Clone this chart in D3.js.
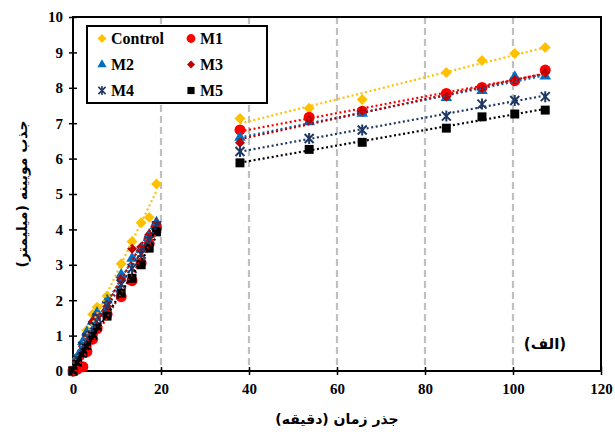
<!DOCTYPE html>
<html>
<head>
<meta charset="utf-8">
<script src="https://cdn.jsdelivr.net/npm/d3@7"></script>
<style>
  body { margin: 0; background: #fff; }
  svg text { font-family: "Liberation Serif", "DejaVu Sans", serif; font-weight: bold; }
  .fa { font-family: "DejaVu Sans", sans-serif; font-weight: bold; }
</style>
</head>
<body>
<div id="chart"></div>
<script>
// square root of time (min): first stage (0-6 h) and second stage (1-8 days)
const timeLeft = [0, 1, 2.24, 3.16, 4.47, 5.48, 7.75, 10.95, 13.42, 15.49, 17.32, 18.97]
const timeRight = [37.95, 53.67, 65.73, 84.85, 92.95, 100.4, 107.33]

const control = [0, 0.35, 0.75, 1.15, 1.6, 1.8, 2.12, 3.03, 3.66, 4.19, 4.34, 5.28,
  7.13, 7.42, 7.67, 8.43, 8.77, 8.97, 9.14]
const m1 = [0, 0.05, 0.12, 0.55, 0.9, 1.2, 1.6, 2.1, 2.55, 3.05, 3.6, 4.05,
  6.81, 7.17, 7.34, 7.84, 8.01, 8.2, 8.5]
const m2 = [0, 0.4, 0.83, 1.1, 1.4, 1.65, 2.0, 2.72, 3.18, 3.45, 3.85, 4.2,
  6.6, 7.04, 7.28, 7.72, 7.92, 8.31, 8.33]
const m3 = [0, 0.3, 0.7, 1.0, 1.39, 1.55, 1.82, 2.6, 3.45, 3.5, 3.85, 4.15,
  6.45, 7.09, 7.35, 7.75, 7.99, 8.22, 8.43]
const m4 = [0, 0.35, 0.7, 0.95, 1.25, 1.5, 1.85, 2.45, 2.9, 3.3, 3.7, 4.1,
  6.2, 6.57, 6.81, 7.2, 7.54, 7.64, 7.75]
const m5 = [0, 0.25, 0.5, 0.72, 1.0, 1.25, 1.55, 2.2, 2.62, 3.0, 3.47, 3.93,
  5.88, 6.26, 6.46, 6.86, 7.18, 7.26, 7.37]

const seriesNames = ["Control", "M1", "M2", "M3", "M4", "M5"]
const xTicks = [0, 20, 40, 60, 80, 100, 120]
const yTicks = [0, 1, 2, 3, 4, 5, 6, 7, 8, 9, 10]
const gridX = [20, 40, 60, 80, 100]

const values = [control, m1, m2, m3, m4, m5]
const colors = ["#FFC000", "#FF0000", "#0070C0", "#C00000", "#1F3864", "#000000"]
const lineColors = ["#FFC000", "#FF0000", "#0070C0", "#C00000", "#1F3864", "#000000"]

const margin = { top: 17, right: 14, bottom: 61, left: 73 }
const W = 615, H = 432
const width = W - margin.left - margin.right
const height = H - margin.top - margin.bottom

const svg = d3.select("#chart").append("svg")
  .attr("width", W)
  .attr("height", H)

const g = svg.append("g")
  .attr("transform", "translate(" + margin.left + "," + margin.top + ")")

const x = d3.scaleLinear().domain([0, 120]).range([0, width])
const y = d3.scaleLinear().domain([0, 10]).range([height, 0])

// grid
g.selectAll(".grid")
  .data(gridX)
  .enter().append("line")
  .attr("x1", d => x(d)).attr("x2", d => x(d))
  .attr("y1", 0).attr("y2", height)
  .attr("stroke", "#C0C0C0")
  .attr("stroke-width", 2.2)
  .attr("stroke-dasharray", "7,4")

// axes
const xAxis = g.append("g")
  .attr("transform", "translate(0," + height + ")")
  .call(d3.axisBottom(x).tickValues(xTicks).tickSize(4).tickSizeOuter(0))
xAxis.select(".domain").remove()
xAxis.selectAll(".tick line").attr("y1", -4).attr("stroke", "#000").attr("stroke-width", 1.5)
xAxis.selectAll(".tick text").attr("y", 12).style("font-size", "15px").attr("fill", "#000")

const yAxis = g.append("g")
  .call(d3.axisLeft(y).tickValues(yTicks).tickSize(4).tickSizeOuter(0))
yAxis.select(".domain").remove()
yAxis.selectAll(".tick line").attr("x1", 4).attr("stroke", "#000").attr("stroke-width", 1.5)
yAxis.selectAll(".tick text").attr("x", -10).style("font-size", "15px").attr("fill", "#000")

// frame
g.append("rect")
  .attr("width", width).attr("height", height)
  .attr("fill", "none").attr("stroke", "#000").attr("stroke-width", 2)

// markers
const symbolFor = i => {
  if (i === 0) return d3.symbol(d3.symbolSquare, 60)()
  if (i === 1) return d3.symbol(d3.symbolCircle, 95)()
  if (i === 2) return d3.symbol(d3.symbolTriangle, 58)()
  if (i === 3) return d3.symbol(d3.symbolSquare, 50)()
  if (i === 4) return "M-4.5,-4.5L4.5,4.5M-4.5,4.5L4.5,-4.5M0,-5.5L0,5.5"
  return d3.symbol(d3.symbolSquare, 80)()
}
const rotFor = i => (i === 0 || i === 3) ? " rotate(45)" : ""

function drawMarker(sel, i) {
  sel.append("path")
    .attr("d", symbolFor(i))
    .attr("fill", i === 4 ? "none" : colors[i])
    .attr("stroke", i === 4 ? colors[i] : "none")
    .attr("stroke-width", 2)
}

const allTime = timeLeft.concat(timeRight)
values.forEach((vals, i) => {
  const pts = allTime.map((t, k) => [t, vals[k]])
  g.append("g").selectAll("g")
    .data(pts)
    .enter().append("g")
    .attr("transform", d => "translate(" + x(d[0]) + "," + y(d[1]) + ")" + rotFor(i))
    .each(function () { drawMarker(d3.select(this), i) })
})

// linear trendlines for each stage
function fit(xs, ys) {
  const mx = d3.mean(xs), my = d3.mean(ys)
  const b = d3.sum(xs, (v, k) => (v - mx) * (ys[k] - my)) / d3.sum(xs, v => (v - mx) * (v - mx))
  return t => my + b * (t - mx)
}
const line = d3.line().x(d => x(d[0])).y(d => y(d[1]))
values.forEach((vals, i) => {
  const n = timeLeft.length
  const segs = [[timeLeft, vals.slice(0, n)], [timeRight, vals.slice(n)]]
  segs.forEach(([ts, vs]) => {
    const f = fit(ts, vs)
    const t0 = ts[0], t1 = ts[ts.length - 1]
    g.append("path")
      .attr("d", line([[t0, f(t0)], [t1, f(t1)]]))
      .attr("fill", "none")
      .attr("stroke", lineColors[i])
      .attr("stroke-width", 2.2)
      .attr("stroke-dasharray", "2,2.6")
  })
})

// legend
const legend = svg.append("g").attr("transform", "translate(87,26)")
legend.append("rect")
  .attr("width", 180).attr("height", 77)
  .attr("fill", "#fff").attr("stroke", "#000").attr("stroke-width", 2)
seriesNames.forEach((name, i) => {
  const col = i % 2, row = Math.floor(i / 2)
  const item = legend.append("g")
    .attr("transform", "translate(" + (col === 0 ? 15 : 104) + "," + (12.5 + row * 26) + ")")
  const m = item.append("g").attr("transform", "scale(0.8)" + rotFor(i))
  drawMarker(m, i)
  item.append("text")
    .attr("x", 9).attr("y", 5.5)
    .style("font-size", "16px")
    .text(name)
})

// titles
svg.append("text")
  .attr("class", "fa")
  .attr("x", margin.left + width / 2).attr("y", 424)
  .attr("text-anchor", "middle")
  .style("font-size", "14px")
  .text("جذر زمان (دقیقه)")

svg.append("text")
  .attr("class", "fa")
  .attr("transform", "translate(27," + (margin.top + height / 2) + ") rotate(-90)")
  .attr("text-anchor", "middle")
  .style("font-size", "14px")
  .text("جذب مویینه (میلیمتر)")

svg.append("text")
  .attr("class", "fa")
  .attr("x", 545).attr("y", 349)
  .attr("text-anchor", "middle")
  .style("font-size", "15px")
  .text("(الف)")
</script>
</body>
</html>
